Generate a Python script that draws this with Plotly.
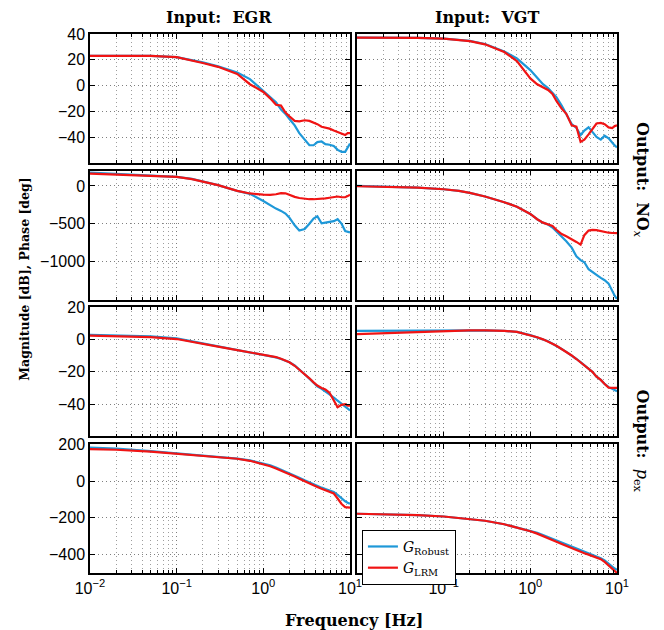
import plotly.graph_objects as go
from plotly.subplots import make_subplots

# frequency grid [Hz]
freq = [0.01, 0.02, 0.05, 0.1, 0.15, 0.2, 0.3, 0.5, 0.7, 1.0, 1.2, 1.4, 1.6, 1.8, 2.0,
        2.3, 2.6, 3.0, 3.4, 3.8, 4.2, 4.7, 5.2, 5.8, 6.5, 7.2, 8.0, 8.8, 9.4, 10.0]

# EGR -> NOx, magnitude [dB]
egr_nox_mag_robust = [23, 23, 23, 22, 20, 18, 15, 10, 5, -4, -9, -13, -18.7, -22, -26,
                      -31, -37, -42, -46.4, -46.4, -44, -43.5, -45.5, -46, -47, -50, -51.5, -51.5, -48, -45]
egr_nox_mag_lrm = [23, 23, 23, 22, 19.5, 17.5, 14.5, 9, 1, -5, -10, -15, -15.6, -21, -24,
                   -27.5, -27.8, -27, -27.5, -28.5, -30, -32, -32.5, -33.5, -35, -36, -37.5, -38.5, -37, -37]
# VGT -> NOx, magnitude [dB]
vgt_nox_mag_robust = [37.2, 37.2, 37, 36.4, 35.5, 34.6, 32.2, 26.5, 21, 12, 6, 1, -2, -6, -9,
                      -15.5, -22, -30, -33, -38.5, -35, -32.5, -36, -40, -42, -39, -41, -44.5, -46.5, -48]
vgt_nox_mag_lrm = [37.2, 37.2, 37, 36.4, 35.5, 34.5, 32, 26, 19, 5.5, 1, -1.5, -3.5, -6.5, -12,
                   -18, -22, -31, -32, -43.8, -42, -38, -34, -29.5, -29, -30, -32.5, -33, -31.5, -31]
# EGR -> NOx, phase [deg]
egr_nox_ph_robust = [175, 160, 132, 118, 92, 57, 10, -66, -105, -200, -260, -300, -330, -365, -420,
                     -520, -590, -570, -500, -430, -400, -495, -485, -475, -465, -440, -500, -595, -605, -614]
egr_nox_ph_lrm = [162, 150, 128, 118, 90, 57, 10, -66, -100, -115, -118, -110, -96, -98, -120,
                  -145, -160, -172, -176, -176, -175, -170, -165, -156, -148, -140, -150, -150, -135, -118]
# VGT -> NOx, phase [deg]
vgt_nox_ph_robust = [0, -8, -22, -44, -65, -92, -140, -215, -275, -370, -440, -485, -510, -550, -600,
                     -660, -730, -815, -930, -980, -1008, -1100, -1140, -1175, -1215, -1245, -1290, -1390, -1450, -1494]
vgt_nox_ph_lrm = [-5, -10, -22, -44, -65, -92, -140, -215, -275, -370, -440, -485, -505, -530, -580,
                  -635, -665, -700, -740, -775, -650, -590, -582, -585, -600, -610, -618, -622, -622, -623]
# EGR -> pex, magnitude [dB]
egr_pex_mag_robust = [3, 2.6, 2, 0.8, -1, -2.5, -4.5, -6.8, -8, -9.5, -10.3, -11, -12, -13, -14,
                      -16, -18.3, -21.5, -24.2, -27, -29, -30.5, -32, -34, -36, -38, -40, -41.5, -43, -44]
egr_pex_mag_lrm = [2.5, 2.2, 1.6, 0.4, -1.2, -2.6, -4.3, -6.5, -7.8, -9.2, -10, -10.8, -11.8, -12.8, -14,
                   -16.2, -18.5, -21.5, -24, -26.5, -28.5, -30, -31, -33, -37.5, -42, -40.5, -40, -41, -41]
# VGT -> pex, magnitude [dB]
vgt_pex_mag_robust = [5.5, 5.6, 5.7, 5.8, 5.8, 5.8, 5.8, 5.5, 4.8, 2.8, 1.5, 0.2, -1, -2.5, -3.8,
                      -5.8, -7.6, -9.8, -12, -14, -16, -18, -20, -23, -25, -27.5, -29.5, -30.5, -31.2, -32]
vgt_pex_mag_lrm = [3.5, 4, 4.8, 5.5, 5.7, 5.8, 5.8, 5.5, 4.8, 2.8, 1.5, 0.2, -1, -2.5, -3.8,
                   -5.8, -7.6, -9.8, -12, -14, -16, -18, -20, -23, -25, -27.5, -29.8, -30, -30, -30]
# EGR -> pex, phase [deg]
egr_pex_ph_robust = [182, 176, 163, 151, 143, 138, 132, 122, 112, 96, 85, 73, 62, 52, 42,
                     30, 18, 4, -8, -18, -26, -36, -44, -52, -60, -75, -95, -110, -118, -124]
egr_pex_ph_lrm = [173, 170, 160, 149, 142, 137, 131, 121, 110, 92, 80, 68, 57, 46, 36,
                  24, 12, -2, -15, -24, -32, -42, -50, -58, -68, -95, -125, -142, -144, -145]
# VGT -> pex, phase [deg]
vgt_pex_ph_robust = [-178, -180, -185, -193, -200, -206, -216, -235, -252, -270, -282, -293, -304, -314, -323,
                     -335, -346, -358, -368, -378, -387, -395, -402, -410, -420, -432, -450, -467, -476, -482]
vgt_pex_ph_lrm = [-178, -180, -185, -193, -200, -206, -216, -235, -252, -273, -286, -298, -310, -320, -330,
                  -342, -353, -365, -375, -385, -393, -400, -407, -415, -425, -440, -460, -480, -492, -500]

panels = [
    (1, 1, egr_nox_mag_robust, egr_nox_mag_lrm), (1, 2, vgt_nox_mag_robust, vgt_nox_mag_lrm),
    (2, 1, egr_nox_ph_robust, egr_nox_ph_lrm), (2, 2, vgt_nox_ph_robust, vgt_nox_ph_lrm),
    (3, 1, egr_pex_mag_robust, egr_pex_mag_lrm), (3, 2, vgt_pex_mag_robust, vgt_pex_mag_lrm),
    (4, 1, egr_pex_ph_robust, egr_pex_ph_lrm), (4, 2, vgt_pex_ph_robust, vgt_pex_ph_lrm),
]

row_ranges = {1: [-60, 40], 2: [-1500, 200], 3: [-60, 20], 4: [-500, 200]}
row_ticks = {1: [-40, -20, 0, 20, 40], 2: [-1000, -500, 0], 3: [-40, -20, 0, 20], 4: [-400, -200, 0, 200]}
x_tickvals = [0.01, 0.1, 1, 10]
x_ticktext = ['10<sup>\u22122</sup>', '10<sup>\u22121</sup>', '10<sup>0</sup>', '10<sup>1</sup>']

BLUE = '#1e98d8'
RED = '#f01414'
SERIF = 'DejaVu Serif'
DOTS = '1px,3px'

fig = make_subplots(rows=4, cols=2, horizontal_spacing=0.0133, vertical_spacing=0.0148)

for row, col, robust, lrm in panels:
    first = (row == 1 and col == 1)
    fig.add_trace(go.Scatter(x=freq, y=robust, mode='lines', line=dict(color=BLUE, width=2.2),
                             name='<i>G</i><sub>Robust</sub>', showlegend=first,
                             legendgroup='robust'), row=row, col=col)
    fig.add_trace(go.Scatter(x=freq, y=lrm, mode='lines', line=dict(color=RED, width=2.2),
                             name='<i>G</i><sub>LRM</sub>', showlegend=first,
                             legendgroup='lrm'), row=row, col=col)

minor_vals = [m * 10 ** e for e in range(-2, 1) for m in range(2, 10)]

for row in range(1, 5):
    for col in range(1, 3):
        # right column drops the 10^-2 label (it would collide with the left 10^1)
        labels = x_ticktext if col == 1 else [''] + x_ticktext[1:]
        fig.update_xaxes(
            type='log', range=[-2, 1],
            tickmode='array', tickvals=x_tickvals, ticktext=labels,
            showticklabels=(row == 4),
            showline=True, linecolor='black', linewidth=1.5, mirror='ticks',
            ticks='inside', ticklen=5, tickcolor='black',
            showgrid=True, gridcolor='rgba(0,0,0,0.5)', griddash=DOTS, gridwidth=1,
            minor=dict(tickmode='array', tickvals=minor_vals, ticks='inside', ticklen=3,
                       tickcolor='black', showgrid=True, gridcolor='rgba(0,0,0,0.38)',
                       griddash=DOTS, gridwidth=1),
            zeroline=False,
            row=row, col=col)
        fig.update_yaxes(
            range=row_ranges[row], tickmode='array', tickvals=row_ticks[row],
            showticklabels=(col == 1),
            showline=True, linecolor='black', linewidth=1.5, mirror='ticks',
            ticks='inside', ticklen=5, tickcolor='black',
            showgrid=True, gridcolor='rgba(0,0,0,0.5)', griddash=DOTS, gridwidth=1,
            zeroline=False,
            row=row, col=col)

fig.update_layout(
    width=664, height=630,
    margin=dict(l=82, r=55, t=26, b=65),
    plot_bgcolor='white', paper_bgcolor='white',
    font=dict(family='Liberation Sans', size=16, color='black'),
    legend=dict(x=0.516, y=0.08, xanchor='left', yanchor='top',
                bgcolor='white', bordercolor='black', borderwidth=1,
                font=dict(family=SERIF, size=14), tracegroupgap=0),
)

title_font = dict(family=SERIF, size=16, color='black')
fig.add_annotation(text='<b>Input:  EGR</b>', x=0.2457, y=1.0, xref='paper', yref='paper',
                   xanchor='center', yanchor='bottom', yshift=5, showarrow=False, font=title_font)
fig.add_annotation(text='<b>Input:  VGT</b>', x=0.7524, y=1.0, xref='paper', yref='paper',
                   xanchor='center', yanchor='bottom', yshift=5, showarrow=False, font=title_font)
fig.add_annotation(text='<b>Output:  NO</b><sub><i>x</i></sub>', x=1.0, y=0.73, xref='paper', yref='paper',
                   xanchor='left', yanchor='middle', xshift=12, textangle=90, showarrow=False, font=title_font)
fig.add_annotation(text='<b>Output:</b>  <i>p</i><sub>ex</sub>', x=1.0, y=0.245, xref='paper', yref='paper',
                   xanchor='left', yanchor='middle', xshift=12, textangle=90, showarrow=False, font=title_font)
fig.add_annotation(text='<b>Magnitude [dB], Phase [deg]</b>', x=0, y=0.545, xref='paper', yref='paper',
                   xanchor='right', yanchor='middle', xshift=-56, textangle=-90, showarrow=False,
                   font=dict(family=SERIF, size=12.5, color='black'))
fig.add_annotation(text='<b>Frequency [Hz]</b>', x=0.5, y=0, xref='paper', yref='paper',
                   xanchor='center', yanchor='top', yshift=-36, showarrow=False, font=title_font)

fig.write_html('out.html')
